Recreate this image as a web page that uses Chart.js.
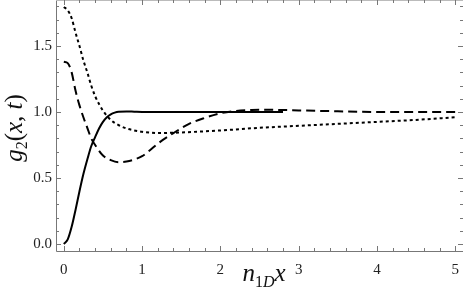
<!DOCTYPE html>
<html>
<head>
<meta charset="utf-8">
<script src="https://cdn.jsdelivr.net/npm/chart.js@4/dist/chart.umd.min.js"></script>
<style>
html,body{margin:0;padding:0;background:#fff;}
#wrap{position:relative;width:463px;height:301px;}
</style>
</head>
<body>
<div id="wrap"><canvas id="c" width="463" height="301"></canvas></div>
<script>
// ---- data ----
const solidX = [0,0.05,0.1,0.15,0.2,0.25,0.3,0.35,0.4,0.45,0.5,0.55,0.6,0.65,0.7,0.8,0.9,1.0,1.5,2.0,2.5,2.8];
const solidY = [0,0.035,0.13,0.26,0.4,0.53,0.64,0.74,0.81,0.875,0.925,0.96,0.982,0.995,1.002,1.004,1.002,1.0,1.0,1.0,1.0,1.0];

const dashX = [0,0.05,0.1,0.15,0.2,0.25,0.3,0.35,0.4,0.5,0.6,0.7,0.8,0.9,1.0,1.1,1.2,1.4,1.6,1.8,2.0,2.2,2.4,2.6,2.8,3.0,3.5,4.0,4.5,5.0];
const dashY = [1.38,1.37,1.3,1.16,1.05,0.96,0.88,0.8,0.75,0.67,0.635,0.62,0.625,0.64,0.665,0.71,0.76,0.84,0.91,0.955,0.99,1.008,1.015,1.017,1.015,1.012,1.005,1.0,1.0,1.0];

const dotX = [0,0.05,0.1,0.15,0.2,0.25,0.3,0.35,0.4,0.45,0.5,0.6,0.7,0.8,0.9,1.0,1.2,1.5,2.0,2.5,3.0,3.5,4.0,4.5,5.0];
const dotY = [1.795,1.77,1.71,1.6,1.5,1.39,1.3,1.2,1.12,1.06,1.01,0.94,0.9,0.875,0.86,0.85,0.84,0.845,0.86,0.88,0.895,0.91,0.925,0.94,0.96];

const xTickLabels = ["0","1","2","3","4","5"];
const xTickValues = [0,1,2,3,4,5];
const yTickLabels = ["0.0","0.5","1.0","1.5"];
const yTickValues = [0,0.5,1,1.5];

const pts = (xs, ys) => xs.map((x, i) => ({x: x, y: ys[i]}));

const SERIF = 'Liberation Serif';

const framePlugin = {
  id: 'frame',
  afterDraw(chart) {
    const ctx = chart.ctx, a = chart.chartArea, xs = chart.scales.x, ys = chart.scales.y;
    ctx.save();
    ctx.strokeStyle = '#777';
    ctx.lineWidth = 1;
    ctx.beginPath();
    ctx.moveTo(a.left + 0.5, a.top);
    ctx.lineTo(a.left + 0.5, a.bottom + 0.5);
    ctx.lineTo(a.right, a.bottom + 0.5);
    ctx.stroke();
    ctx.strokeStyle = '#bbb';
    ctx.beginPath();
    ctx.moveTo(a.left, a.top + 0.5);
    ctx.lineTo(a.right, a.top + 0.5);
    ctx.stroke();
    ctx.strokeStyle = '#777';
    ctx.beginPath();
    // x ticks
    for (let k = 0; k <= 25; k++) {
      const v = k * 0.2;
      const px = Math.round(xs.getPixelForValue(v)) + 0.5;
      const len = (k % 5 === 0) ? 5 : 3;
      ctx.moveTo(px, a.bottom); ctx.lineTo(px, a.bottom - len);
      ctx.moveTo(px, a.top); ctx.lineTo(px, a.top + len);
    }
    // y ticks
    for (let k = 0; k <= 18; k++) {
      const v = k * 0.1;
      const py = Math.round(ys.getPixelForValue(v)) + 0.5;
      const len = (k % 5 === 0) ? 5 : 3;
      ctx.moveTo(a.left, py); ctx.lineTo(a.left + len, py);
      ctx.moveTo(a.right, py); ctx.lineTo(a.right - len, py);
    }
    ctx.stroke();

    // axis titles
    ctx.fillStyle = '#111';
    ctx.save();
    ctx.translate(22, 128);
    ctx.rotate(-Math.PI / 2);
    drawParts(ctx, [
      {t: 'g', f: 'italic 25px ' + SERIF, dy: 0},
      {t: '2', f: '16px ' + SERIF, dy: 5},
      {t: '(', f: '25px ' + SERIF, dy: 0},
      {t: 'x', f: 'italic 25px ' + SERIF, dy: 0},
      {t: ', ', f: '25px ' + SERIF, dy: 0},
      {t: 't', f: 'italic 25px ' + SERIF, dy: 0},
      {t: ')', f: '25px ' + SERIF, dy: 0}
    ]);
    ctx.restore();
    ctx.save();
    ctx.translate(264, 281);
    drawParts(ctx, [
      {t: 'n', f: 'italic 25px ' + SERIF, dy: 0},
      {t: '1', f: '16px ' + SERIF, dy: 6},
      {t: 'D', f: 'italic 16px ' + SERIF, dy: 6},
      {t: 'x', f: 'italic 25px ' + SERIF, dy: 0}
    ]);
    ctx.restore();
    ctx.restore();
  }
};

function drawParts(ctx, parts) {
  let w = 0;
  parts.forEach(p => { ctx.font = p.f; p.w = ctx.measureText(p.t).width; w += p.w; });
  let x = -w / 2;
  ctx.textBaseline = 'alphabetic';
  ctx.textAlign = 'left';
  parts.forEach(p => { ctx.font = p.f; ctx.fillText(p.t, x, p.dy); x += p.w; });
}

new Chart(document.getElementById('c'), {
  type: 'line',
  data: {
    datasets: [
      {data: pts(solidX, solidY), borderColor: '#000', borderWidth: 2, pointRadius: 0, cubicInterpolationMode: 'monotone', fill: false},
      {data: pts(dashX, dashY), borderColor: '#000', borderWidth: 2, borderDash: [9, 5], pointRadius: 0, cubicInterpolationMode: 'monotone', fill: false},
      {data: pts(dotX, dotY), borderColor: '#000', borderWidth: 2, borderDash: [3, 3], pointRadius: 0, cubicInterpolationMode: 'monotone', fill: false}
    ]
  },
  options: {
    responsive: false,
    animation: false,
    events: [],
    layout: {padding: 0},
    plugins: {legend: {display: false}, tooltip: {enabled: false}, title: {display: false}},
    scales: {
      x: {
        type: 'linear', min: -0.1, max: 5.1,
        grid: {display: false, drawTicks: false},
        border: {display: false},
        afterBuildTicks(s) { s.ticks = xTickValues.map(v => ({value: v})); },
        afterFit(s) { s.height = 50; s.paddingLeft = 0; s.paddingRight = 0; },
        ticks: {
          padding: 10, color: '#222', maxRotation: 0, autoSkip: false,
          font: {family: SERIF, size: 15},
          callback(v) { const i = xTickValues.indexOf(v); return i >= 0 ? xTickLabels[i] : ''; }
        }
      },
      y: {
        type: 'linear', min: -0.053, max: 1.848,
        grid: {display: false, drawTicks: false},
        border: {display: false},
        afterBuildTicks(s) { s.ticks = yTickValues.map(v => ({value: v})); },
        afterFit(s) { s.width = 56; s.paddingTop = 0; s.paddingBottom = 0; },
        ticks: {
          padding: 4, color: '#222', autoSkip: false,
          font: {family: SERIF, size: 15},
          callback(v) { const i = yTickValues.indexOf(v); return i >= 0 ? yTickLabels[i] : ''; }
        }
      }
    }
  },
  plugins: [framePlugin]
});
</script>
</body>
</html>
